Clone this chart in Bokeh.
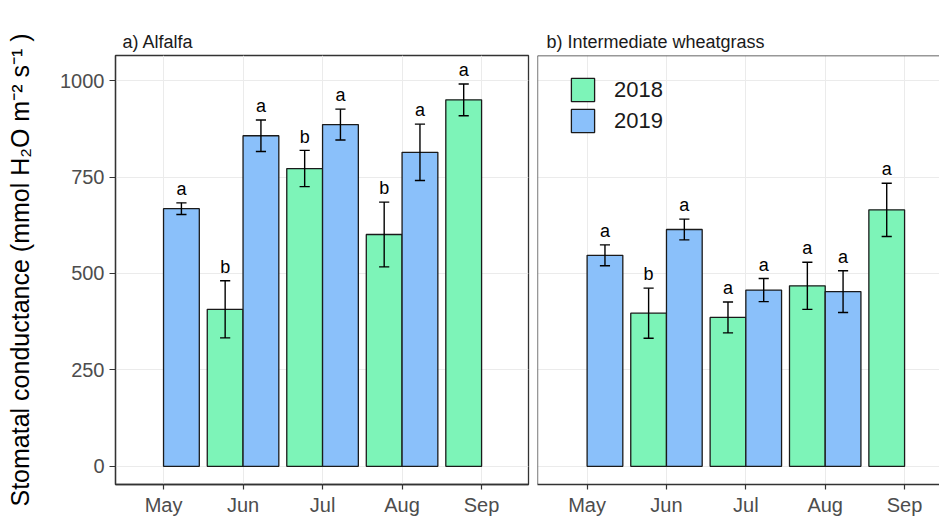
from bokeh.plotting import figure
from bokeh.models import (ColumnDataSource, Range1d, FixedTicker, Span, Legend, LegendItem)
from bokeh.layouts import row
from bokeh.core.properties import value
from bokeh.embed import file_html
from bokeh.resources import INLINE

months = ["May", "Jun", "Jul", "Aug", "Sep"]
years = ["2018", "2019"]

# Alfalfa
alf_2018_months = ["Jun", "Jul", "Aug", "Sep"]
alf_2018_mean = [407, 772, 601, 950]
alf_2018_se = [74, 47, 84, 41]
alf_2018_letter = ["b", "b", "b", "a"]

alf_2019_months = ["May", "Jun", "Jul", "Aug"]
alf_2019_mean = [668, 857, 886, 814]
alf_2019_se = [15, 41, 40, 73]
alf_2019_letter = ["a", "a", "a", "a"]

# Intermediate wheatgrass
iwg_2018_months = ["Jun", "Jul", "Aug", "Sep"]
iwg_2018_mean = [397, 386, 468, 665]
iwg_2018_se = [65, 40, 61, 69]
iwg_2018_letter = ["b", "a", "a", "a"]

iwg_2019_months = ["May", "Jun", "Jul", "Aug"]
iwg_2019_mean = [547, 614, 457, 453]
iwg_2019_se = [27, 27, 30, 54]
iwg_2019_letter = ["a", "a", "a", "a"]

y_ticks = [0, 250, 500, 750, 1000]

GREEN = "#7df4b8"
BLUE = "#8ac0fa"
FONT = "Liberation Sans"
DODGE = 0.225
BAR_W = 0.45
CAP = 0.064
LETTER_PAD = 36


def make_source(ms, mean, se, letters, offset):
    x = [months.index(m) + offset for m in ms]
    up = [a + b for a, b in zip(mean, se)]
    lo = [a - b for a, b in zip(mean, se)]
    return ColumnDataSource(dict(x=x, top=mean, upper=up, lower=lo, letter=letters,
                                 x0=[v - CAP for v in x], x1=[v + CAP for v in x],
                                 ly=[u + LETTER_PAD for u in up]))


def style(p, title, offset):
    p.title.text = title
    p.title.align = "left"
    p.title.offset = offset
    p.title.standoff = 7
    p.title.text_font = FONT
    p.title.text_font_size = "18px"
    p.title.text_font_style = "normal"
    p.title.text_color = "#1a1a1a"
    p.xaxis.ticker = FixedTicker(ticks=list(range(len(months))))
    p.xaxis.major_label_overrides = {i: m for i, m in enumerate(months)}
    p.xaxis.minor_tick_line_color = None
    p.xaxis.major_tick_in = 0
    p.xaxis.major_tick_out = 5
    p.xaxis.major_tick_line_color = "#333333"
    p.xaxis.major_tick_line_width = 1.2
    p.xaxis.axis_line_color = "#333333"
    p.xaxis.axis_line_width = 1.3
    p.xaxis.major_label_text_font = FONT
    p.xaxis.major_label_text_font_size = "20px"
    p.xaxis.major_label_text_color = "#4d4d4d"
    p.xaxis.major_label_standoff = 4
    p.xgrid.ticker = FixedTicker(ticks=list(range(len(months))))
    p.ygrid.ticker = FixedTicker(ticks=y_ticks)
    p.xgrid.grid_line_color = "#ebebeb"
    p.ygrid.grid_line_color = "#ebebeb"
    p.xgrid.grid_line_width = 1
    p.ygrid.grid_line_width = 1


def draw(p, s18, s19):
    r18 = p.vbar(x="x", top="top", bottom=0, width=BAR_W, source=s18,
                 fill_color=GREEN, line_color="#1a1a1a", line_width=1.3)
    r19 = p.vbar(x="x", top="top", bottom=0, width=BAR_W, source=s19,
                 fill_color=BLUE, line_color="#1a1a1a", line_width=1.3)
    for s in (s18, s19):
        p.segment(x0="x", y0="lower", x1="x", y1="upper", source=s,
                  line_color="black", line_width=1.4)
        p.segment(x0="x0", y0="upper", x1="x1", y1="upper", source=s,
                  line_color="black", line_width=1.4)
        p.segment(x0="x0", y0="lower", x1="x1", y1="lower", source=s,
                  line_color="black", line_width=1.4)
        p.text(x="x", y="ly", text="letter", source=s, text_align="center",
               text_baseline="alphabetic", text_font=value(FONT),
               text_font_size="18px", text_color="black")
    return r18, r19


yr = Range1d(-47, 1065)

p1 = figure(width=530, height=522, x_range=Range1d(-0.604, 4.59), y_range=yr,
            output_backend="svg", toolbar_location=None,
            min_border_left=115, min_border_right=2, min_border_top=55,
            min_border_bottom=38)
style(p1, "a) Alfalfa", 7)
p1.outline_line_color = "#333333"
p1.outline_line_width = 1.3
p1.yaxis.ticker = FixedTicker(ticks=y_ticks)
p1.yaxis.minor_tick_line_color = None
p1.yaxis.major_tick_in = 0
p1.yaxis.major_tick_out = 6
p1.yaxis.major_tick_line_color = "#333333"
p1.yaxis.major_tick_line_width = 1.2
p1.yaxis.axis_line_color = "#333333"
p1.yaxis.axis_line_width = 1.3
p1.yaxis.major_label_text_font = FONT
p1.yaxis.major_label_text_font_size = "20px"
p1.yaxis.major_label_text_color = "#4d4d4d"
p1.yaxis.major_label_standoff = 5
p1.yaxis.axis_label = "Stomatal conductance (mmol H\u2082O m\u207b\u00b2 s\u207b\u00b9 )"
p1.yaxis.axis_label_text_font = FONT
p1.yaxis.axis_label_text_font_size = "25px"
p1.yaxis.axis_label_text_font_style = "normal"
p1.yaxis.axis_label_text_color = "black"
p1.yaxis.axis_label_standoff = 23

draw(p1, make_source(alf_2018_months, alf_2018_mean, alf_2018_se, alf_2018_letter, -DODGE),
     make_source(alf_2019_months, alf_2019_mean, alf_2019_se, alf_2019_letter, DODGE))

x2_start = -0.625
p2 = figure(width=409, height=522, x_range=Range1d(x2_start, 4.44), y_range=yr,
            output_backend="svg", toolbar_location=None,
            min_border_left=7, min_border_right=0, min_border_top=55,
            min_border_bottom=38)
style(p2, "b) Intermediate wheatgrass", 9)
p2.outline_line_color = None
p2.yaxis.visible = False
p2.add_layout(Span(location=x2_start, dimension="height", line_color="#333333", line_width=1.3))
p2.add_layout(Span(location=1065, dimension="width", line_color="#333333", line_width=1.3))

g18, g19 = draw(p2, make_source(iwg_2018_months, iwg_2018_mean, iwg_2018_se, iwg_2018_letter, -DODGE),
                make_source(iwg_2019_months, iwg_2019_mean, iwg_2019_se, iwg_2019_letter, DODGE))

legend = Legend(items=[LegendItem(label=years[0], renderers=[g18]),
                       LegendItem(label=years[1], renderers=[g19])],
                location=(31, 349), padding=0, margin=0, spacing=2,
                glyph_width=29, glyph_height=29, label_standoff=17,
                label_text_font=FONT, label_text_font_size="22px",
                label_text_color="#1a1a1a", border_line_color=None,
                background_fill_alpha=0)
p2.add_layout(legend)

layout = row(p1, p2)
open("out.html", "w").write(file_html(layout, INLINE))
